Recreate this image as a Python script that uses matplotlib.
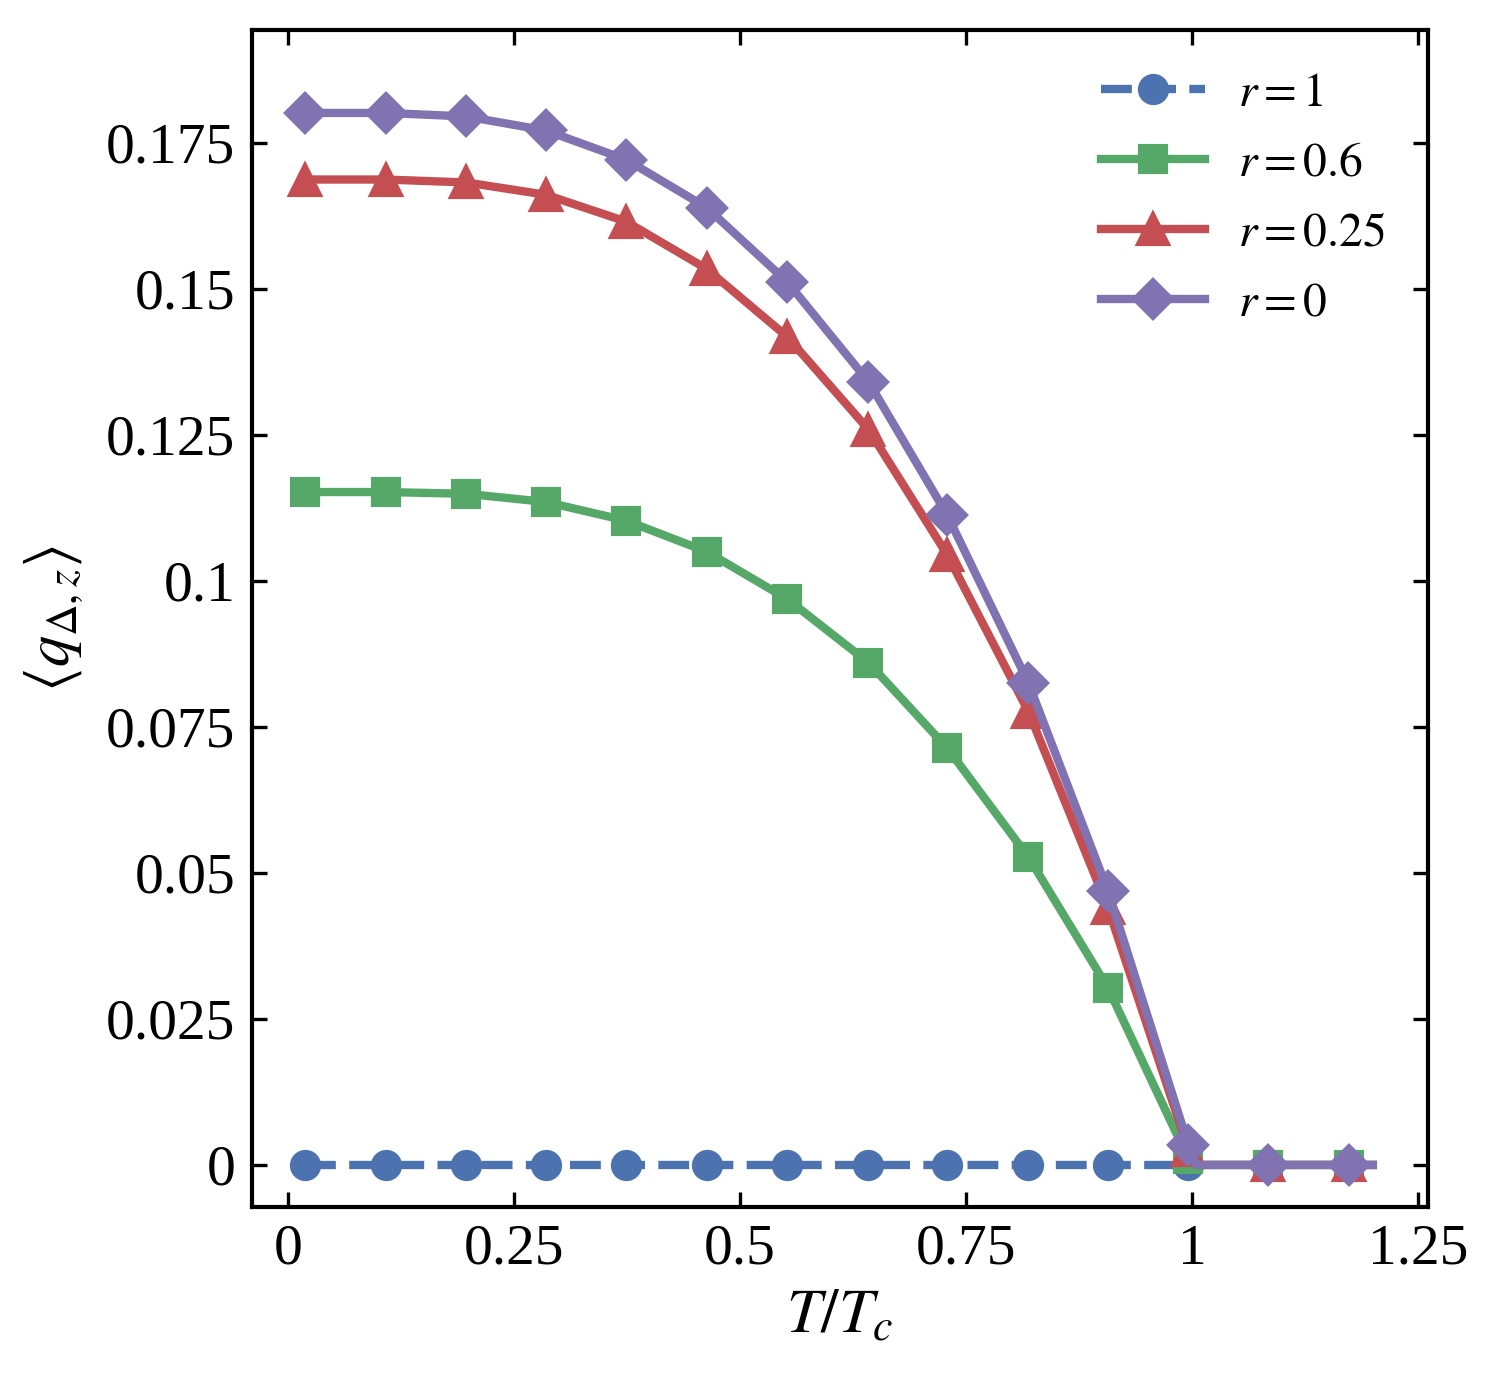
import matplotlib
matplotlib.use("Agg")
import matplotlib.pyplot as plt

plt.rcParams['font.family'] = ['Liberation Serif', 'DejaVu Serif']
plt.rcParams['mathtext.fontset'] = 'stix'

# T/Tc sample points (markers at all but the 1.005 and 1.2 entries)
T = [0.019, 0.108, 0.197, 0.285, 0.374, 0.463, 0.552, 0.642, 0.729, 0.819, 0.907, 0.996, 1.005, 1.084, 1.174, 1.2]
q_r1 = [0, 0, 0, 0, 0, 0, 0, 0, 0, 0, 0, 0]
q_r06 = [0.1152, 0.1152, 0.1149, 0.1135, 0.1103, 0.1050, 0.0969, 0.0860, 0.0714, 0.0527, 0.0303, 0.0010, 0, 0, 0, 0]
q_r025 = [0.1687, 0.1687, 0.1682, 0.1661, 0.1615, 0.1534, 0.1418, 0.1259, 0.1045, 0.0776, 0.0440, 0.0026, 0, 0, 0, 0]
q_r0 = [0.1801, 0.1801, 0.1795, 0.1771, 0.1721, 0.1639, 0.1512, 0.1341, 0.1113, 0.0825, 0.0469, 0.0034, 0, 0, 0, 0]
marked = [0, 1, 2, 3, 4, 5, 6, 7, 8, 9, 10, 11, 13, 14]

labels = [r'$r=1$', r'$r=0.6$', r'$r=0.25$', r'$r=0$']
colors = ['#4C72B0', '#55A868', '#C44E52', '#8172B2']
xticks = [0, 0.25, 0.5, 0.75, 1, 1.25]
xticklabels = ['0', '0.25', '0.5', '0.75', '1', '1.25']
yticks = [0, 0.025, 0.05, 0.075, 0.1, 0.125, 0.15, 0.175]
yticklabels = ['0', '0.025', '0.05', '0.075', '0.1', '0.125', '0.15', '0.175']

fig = plt.figure(figsize=(1501/300, 1374/300), dpi=300)
ax = fig.add_axes([252/1501, 1 - 1207/1374, (1428-252)/1501, (1207-30)/1374])

lw = 2.0
ax.plot(T[:len(q_r1)], q_r1, '--', color=colors[0], lw=lw, marker='o', ms=6.5, label=labels[0])
ax.plot(T, q_r06, '-', color=colors[1], lw=lw, marker='s', ms=6.2, markevery=marked, label=labels[1])
ax.plot(T, q_r025, '-', color=colors[2], lw=lw, marker='^', ms=7, markevery=marked, label=labels[2])
ax.plot(T, q_r0, '-', color=colors[3], lw=lw, marker='D', ms=6.3, markevery=marked, label=labels[3])

ax.set_xlim(-0.04, 1.261)
ax.set_ylim(-0.0072, 0.1943)
ax.set_xticks(xticks)
ax.set_xticklabels(xticklabels)
ax.set_yticks(yticks)
ax.set_yticklabels(yticklabels)
ax.tick_params(direction='in', top=True, right=True, length=3.5, width=0.8, labelsize=13.8, pad=4)
for s in ax.spines.values():
    s.set_linewidth(1.0)

ax.set_xlabel(r'$T/T_c$', fontsize=15, labelpad=3)
ax.set_ylabel(r'$\langle q_{\Delta,z}\rangle$', fontsize=15, labelpad=5)

ax.legend(loc='upper right', frameon=False, fontsize=11.4, handlelength=2.2,
          handletextpad=0.7, labelspacing=0.56, borderaxespad=0.5)

fig.savefig('out.png', dpi=300)
